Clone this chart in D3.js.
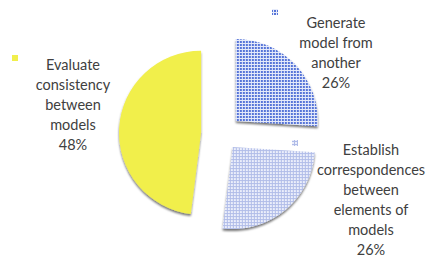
<!DOCTYPE html>
<html><head><meta charset="utf-8">
<script src="https://cdn.jsdelivr.net/npm/d3@7"></script>
<style>body{margin:0;background:#fff}svg{display:block}</style>
</head><body>
<script>
const categories = ["Generate model from another", "Establish correspondences between elements of models", "Evaluate consistency between models"];
const values = [26, 26, 48];
const labelLines = [["Generate", "model from", "another", "26%"], ["Establish", "correspondences", "between", "elements of", "models", "26%"], ["Evaluate", "consistency", "between", "models", "48%"]];
const explode = [19, 17, 21];
const W = 429, H = 259;
const svg = d3.select("body").append("svg").attr("width", W).attr("height", H);
const defs = svg.append("defs");
const p1 = defs.append("pattern").attr("id", "p1").attr("width", 3).attr("height", 3).attr("patternUnits", "userSpaceOnUse");
p1.append("rect").attr("width", 3).attr("height", 3).attr("fill", "#5674d8");
p1.append("rect").attr("width", 3).attr("height", 1).attr("fill", "#e6ebfa");
p1.append("rect").attr("width", 1).attr("height", 3).attr("fill", "#e6ebfa");
const p2 = defs.append("pattern").attr("id", "p2").attr("width", 3).attr("height", 3).attr("patternUnits", "userSpaceOnUse");
p2.append("rect").attr("width", 3).attr("height", 3).attr("fill", "#eceffb");
p2.append("rect").attr("width", 3).attr("height", 1).attr("fill", "#b0bce8");
p2.append("rect").attr("width", 1).attr("height", 3).attr("fill", "#b0bce8");
const f = defs.append("filter").attr("id", "sh").attr("x", "-20%").attr("y", "-20%").attr("width", "140%").attr("height", "140%");
f.append("feDropShadow").attr("dx", 0).attr("dy", 2).attr("stdDeviation", 1).attr("flood-color", "#000").attr("flood-opacity", 0.55);
const fills = ["url(#p1)", "url(#p2)", "#f1ef4c"];
const cx = 222, cy = 134, R = 82;
const pie = d3.pie().sort(null).value(d => d)(values);
const arc = d3.arc().innerRadius(0).outerRadius(R);
const g = svg.append("g").attr("transform", `translate(${cx},${cy})`);
g.selectAll("path").data(pie).join("path")
  .attr("d", arc)
  .attr("fill", (d, i) => fills[i])
  .attr("filter", "url(#sh)")
  .attr("transform", (d, i) => {
    const a = (d.startAngle + d.endAngle) / 2;
    return `translate(${Math.sin(a) * explode[i]},${-Math.cos(a) * explode[i]})`;
  });
const labelPos = [[336, 23], [371, 150], [73, 65]];
const keyPos = [[275, 12], [295, 143], [15, 58]];
const lh = 20;
labelLines.forEach((lines, i) => {
  const t = svg.append("text").attr("text-anchor", "middle")
    .attr("font-family", "Lato, 'Open Sans', sans-serif").attr("font-size", 14.5).attr("fill", "#404040");
  lines.forEach((l, j) => t.append("tspan").attr("x", labelPos[i][0]).attr("y", labelPos[i][1] + j * lh + 5).text(l));
  svg.append("rect").attr("x", keyPos[i][0] - 3).attr("y", keyPos[i][1] - 3).attr("width", 6).attr("height", 6).attr("fill", fills[i]);
});
</script>
</body></html>
